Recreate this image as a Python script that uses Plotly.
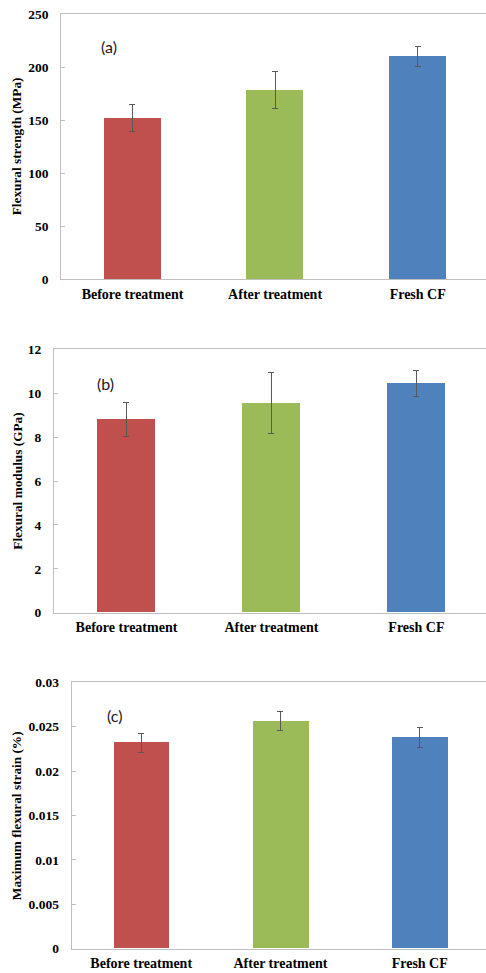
import plotly.graph_objects as go

# Sample groups and measured properties (mean ± standard deviation)
categories = ["Before treatment", "After treatment", "Fresh CF"]
bar_colors = ["#C0504D", "#9BBB59", "#4F81BD"]

strength = [152, 178, 210]
strength_err = [12.5, 17.5, 9.6]

modulus = [8.8, 9.55, 10.45]
modulus_err = [0.77, 1.38, 0.6]

strain = [0.0232, 0.0256, 0.0238]
strain_err = [0.00107, 0.00107, 0.0011]

panel_labels = ["(a)", "(b)", "(c)"]
y_titles = ["Flexural strength (MPa)", "Flexural modulus (GPa)", "Maximum flexural strain (%)"]

W, H = 486, 973
SERIF = "Liberation Serif"
AXIS_GRAY = "#BFBFBF"

panels = [
    dict(values=strength, errors=strength_err, yrange=[0, 250], dtick=50,
         ydom=[0.7130, 0.9856], xdom=[0.1259, 1.0], xmax=2.479,
         label_pos=(-0.165, 219)),
    dict(values=modulus, errors=modulus_err, yrange=[0, 12], dtick=2,
         ydom=[0.3703, 0.6410], xdom=[0.1111, 1.0], xmax=2.48,
         label_pos=(-0.148, 10.46)),
    dict(values=strain, errors=strain_err, yrange=[0, 0.03], dtick=0.005,
         ydom=[0.0250, 0.2988], xdom=[0.1473, 1.0], xmax=2.476,
         label_pos=(-0.193, 0.02624)),
]

fig = go.Figure()
annotations = []

for i, p in enumerate(panels):
    n = "" if i == 0 else str(i + 1)
    fig.add_trace(go.Bar(
        x=categories,
        y=p["values"],
        marker=dict(color=bar_colors, line=dict(width=0)),
        width=0.4,
        error_y=dict(type="data", array=p["errors"], visible=True,
                     color="#595959", thickness=1, width=3),
        xaxis="x" + n,
        yaxis="y" + n,
        showlegend=False,
    ))

    fig.update_layout(**{
        "xaxis" + n: dict(
            domain=p["xdom"], anchor="y" + n, type="category",
            range=[-0.5, p["xmax"]], automargin=False,
            showline=True, mirror=True, linecolor=AXIS_GRAY, linewidth=1,
            showgrid=False, zeroline=False, ticks="",
            ticklabelstandoff=2,
            tickfont=dict(family=SERIF, size=14, color="#000000", weight="bold"),
        ),
        "yaxis" + n: dict(
            domain=p["ydom"], anchor="x" + n,
            range=p["yrange"], dtick=p["dtick"], tick0=0, automargin=False,
            showline=True, linecolor=AXIS_GRAY, linewidth=1,
            showgrid=False, zeroline=False,
            ticks="inside", ticklen=4, tickcolor=AXIS_GRAY, tickwidth=1,
            ticklabelstandoff=9,
            tickfont=dict(family=SERIF, size=13.5, color="#000000", weight="bold"),
        ),
    })

    # Panel letter inside the plot area
    lx, ly = p["label_pos"]
    annotations.append(dict(
        x=lx, y=ly, xref="x" + n, yref="y" + n, text=panel_labels[i],
        showarrow=False, xanchor="center", yanchor="middle",
        font=dict(family="Lato", size=16, color="#1a1a1a"),
    ))

    # Rotated y-axis title, centred on the plot area
    annotations.append(dict(
        x=16.7 / W, y=(p["ydom"][0] + p["ydom"][1]) / 2,
        xref="paper", yref="paper", text=y_titles[i], textangle=-90,
        showarrow=False, xanchor="center", yanchor="middle",
        font=dict(family=SERIF, size=13.3, color="#000000", weight="bold"),
    ))

fig.update_layout(
    width=W, height=H,
    margin=dict(l=0, r=0, t=0, b=0),
    paper_bgcolor="#FFFFFF",
    plot_bgcolor="#FFFFFF",
    annotations=annotations,
    bargap=0,
)

fig.write_html("out.html")
